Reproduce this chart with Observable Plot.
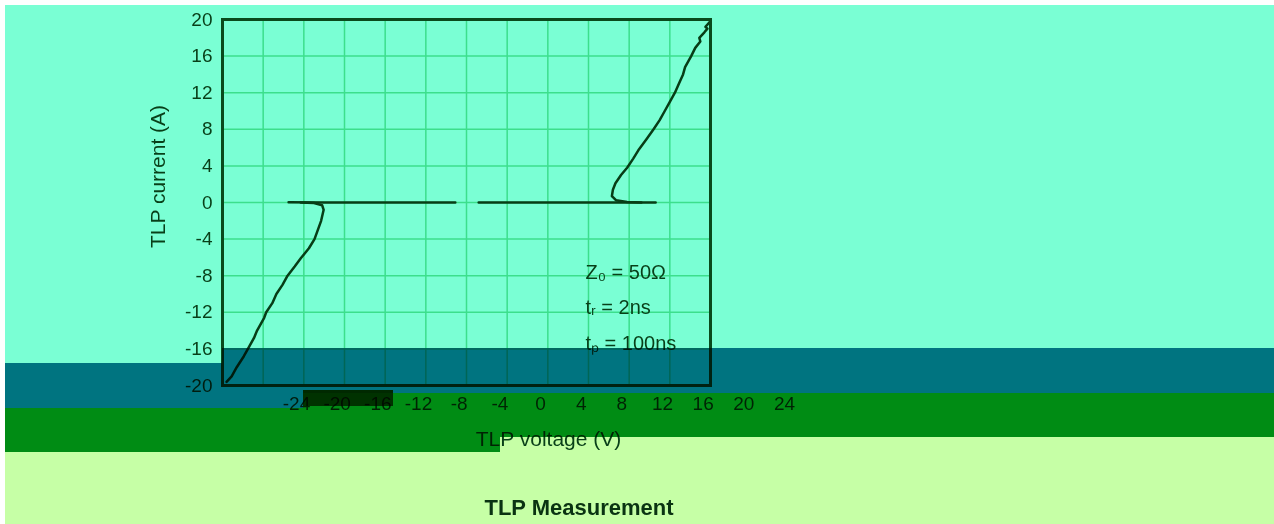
<!DOCTYPE html>
<html>
<head>
<meta charset="utf-8">
<script src="https://cdn.jsdelivr.net/npm/d3@7"></script>
<script src="https://cdn.jsdelivr.net/npm/@observablehq/plot@0.6"></script>
<style>
  html, body { margin: 0; padding: 0; }
  body { width: 1274px; height: 524px; position: relative; overflow: hidden; background: #ffffff; font-family: "Liberation Sans", Arial, sans-serif; }
  .blk { position: absolute; }
  .mul { position: absolute; mix-blend-mode: multiply; z-index: 3; }
  #chart { position: absolute; left: 0; top: 0; z-index: 2; }
  #caption { position: absolute; left: 0; width: 1158px; top: 495px; height: 26px; line-height: 26px; text-align: center; font: bold 22px "Liberation Sans", Arial, sans-serif; color: #0a3312; z-index: 2; }
</style>
</head>
<body>
<div class="blk" style="left:5px;top:5px;width:1269px;height:519px;background:#7affd4;z-index:0"></div>
<div class="blk" style="left:5px;top:452px;width:495px;height:72px;background:#c6ffa6;z-index:1"></div>
<div class="blk" style="left:500px;top:437px;width:774px;height:87px;background:#c6ffa6;z-index:1"></div>
<div id="chart"></div>
<div id="caption">TLP Measurement</div>
<!-- recoloured bands -->
<div class="mul" style="left:222px;top:348px;width:1052px;height:15px;background:#00749a"></div>
<div class="mul" style="left:5px;top:363px;width:1269px;height:30px;background:#00749a"></div>
<div class="mul" style="left:5px;top:393px;width:298px;height:15px;background:#00749a"></div>
<div class="mul" style="left:303px;top:393px;width:971px;height:44px;background:#008c18"></div>
<div class="mul" style="left:303px;top:437px;width:197px;height:15px;background:#008c18"></div>
<div class="mul" style="left:5px;top:408px;width:298px;height:44px;background:#008c18"></div>
<div class="mul" style="left:303px;top:390px;width:90px;height:16px;background:#005a00"></div>
<script>
// ---- axis ticks ----
const xTicks = [-24, -20, -16, -12, -8, -4, 0, 4, 8, 12, 16, 20, 24];
const yTicks = [-20, -16, -12, -8, -4, 0, 4, 8, 12, 16, 20];

// ---- TLP trace, negative polarity ----
const negLeakV = [-17.5, -14.0, -10.0, -6.0, -1.1];
const negLeakI = [0.03, 0.0, 0.0, 0.0, 0.0];
const negOnV = [-16.3, -15.0, -14.2, -14.05, -14.3, -14.95, -15.5, -16.3, -16.9, -17.6, -18.1, -18.7, -19.1, -19.7, -19.9, -20.6, -20.9, -21.5, -21.9, -22.6, -23.1, -23.6];
const negOnI = [0.0, -0.05, -0.3, -0.8, -2.0, -4.0, -5.0, -6.1, -7.0, -8.0, -9.0, -10.0, -11.0, -12.0, -12.6, -14.0, -14.8, -16.0, -16.8, -18.0, -19.0, -19.6];

// ---- TLP trace, positive polarity ----
const posLeakV = [1.2, 6.0, 10.0, 14.0, 18.6];
const posLeakI = [0.0, 0.0, 0.0, 0.0, 0.0];
const posOnV = [17.2, 15.8, 14.7, 14.3, 14.4, 14.65, 15.2, 15.8, 16.4, 16.9, 17.7, 18.4, 19.0, 19.5, 20.0, 20.5, 20.9, 21.3, 21.5, 22.1, 22.5, 23.0, 22.9, 23.4, 23.7, 23.5, 23.9, 24.0];
const posOnI = [0.0, 0.05, 0.25, 0.7, 1.4, 2.1, 3.0, 3.8, 4.8, 5.7, 6.9, 8.0, 9.0, 10.0, 11.0, 12.0, 13.0, 14.0, 14.8, 16.0, 16.9, 17.6, 18.0, 18.6, 19.0, 19.2, 19.7, 20.0];

// ---- annotation ----
const noteText = ["Z\u2080 = 50\u03A9", "t\u1D63 = 2ns", "t\u209A = 100ns"];
const noteV = [11.7, 11.7, 11.7];
const noteI = [-7.65, -11.5, -15.4];

const xLabel = "TLP voltage (V)";
const yLabel = "TLP current (A)";

function series(name, V, I) { return V.map((v, i) => ({branch: name, V: v, I: I[i]})); }
const trace = [].concat(
  series("negLeak", negLeakV, negLeakI),
  series("negOn", negOnV, negOnI),
  series("posLeak", posLeakV, posLeakI),
  series("posOn", posOnV, posOnI)
);
const notes = noteText.map((t, i) => ({t, V: noteV[i], I: noteI[i]}));

const ink = "#083f18";
const fmt = d => String(d);
const chart = Plot.plot({
  width: 1274,
  height: 470,
  marginLeft: 222,
  marginRight: 564,
  marginTop: 19,
  marginBottom: 85,
  style: {background: "transparent", color: ink, fontFamily: "'Liberation Sans', Arial, sans-serif", fontSize: "19px", overflow: "visible"},
  x: {domain: [-24, 24]},
  y: {domain: [-20, 20]},
  marks: [
    Plot.gridX(xTicks, {stroke: "#3cdf8c", strokeOpacity: 1, strokeWidth: 1.5}),
    Plot.gridY(yTicks, {stroke: "#3cdf8c", strokeOpacity: 1, strokeWidth: 1.5}),
    Plot.axisY(yTicks, {tickSize: 0, tickPadding: 10, label: null, fontSize: 19, tickFormat: fmt}),
    Plot.axisX(xTicks, {tickSize: 0, tickPadding: 11, dx: 74, label: null, fontSize: 19, tickFormat: fmt}),
    Plot.text([yLabel], {frameAnchor: "left", textAnchor: "middle", rotate: -90, dx: -64, dy: -26, fontSize: 21, fill: ink}),
    Plot.text([xLabel], {frameAnchor: "bottom", textAnchor: "middle", dx: 82, dy: 60, fontSize: 21, fill: ink}),
    Plot.line(trace, {x: "V", y: "I", z: "branch", stroke: "#073d16", strokeWidth: 2.5, curve: "linear"}),
    Plot.text(notes, {x: "V", y: "I", text: "t", textAnchor: "start", fontSize: 20, fill: ink}),
    Plot.frame({stroke: "#0a4a1c", strokeWidth: 3})
  ]
});
document.getElementById("chart").appendChild(chart);
</script>
</body>
</html>
